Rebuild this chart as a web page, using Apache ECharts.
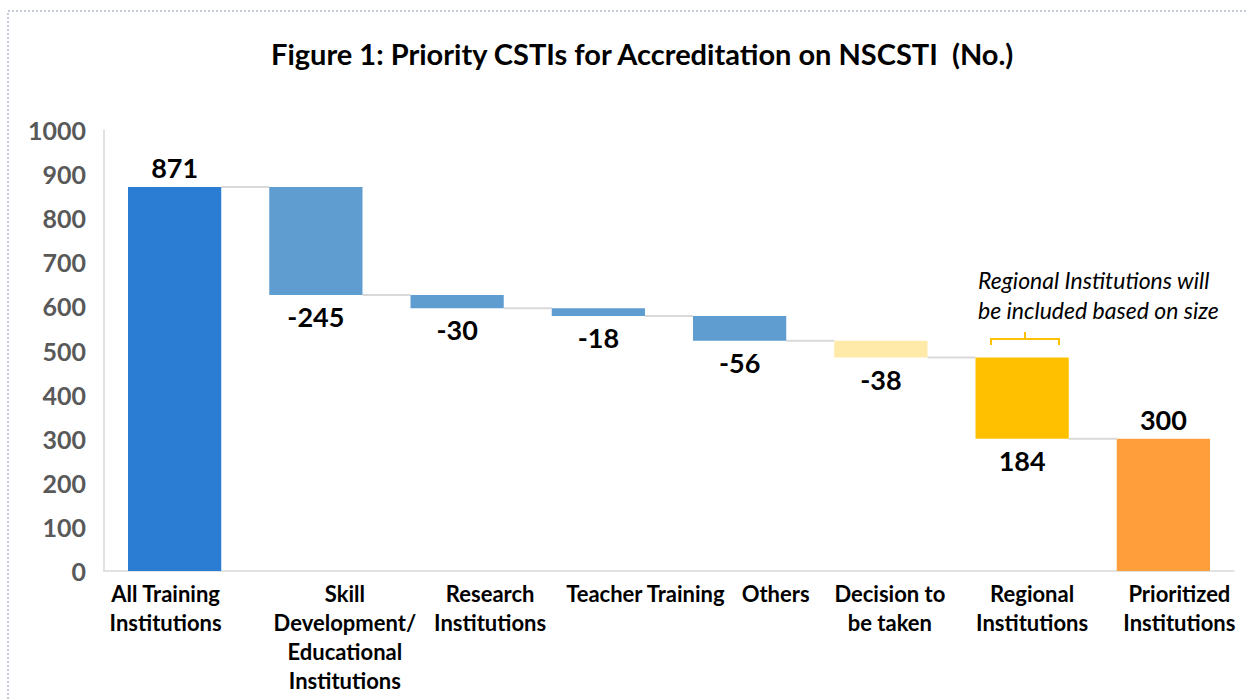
<!DOCTYPE html>
<html>
<head>
<meta charset="utf-8">
<script src="https://cdn.jsdelivr.net/npm/echarts@6/dist/echarts.min.js"></script>
<style>
  html, body { margin: 0; padding: 0; background: #fff; }
  #chart { width: 1246px; height: 700px; }
</style>
</head>
<body>
<div id="chart"></div>
<script>
var categories = [
  'All Training\nInstitutions',
  'Skill\nDevelopment/\nEducational\nInstitutions',
  'Research\nInstitutions',
  'Teacher Training',
  'Others',
  'Decision to\nbe taken',
  'Regional\nInstitutions',
  'Prioritized\nInstitutions'
];
var changes = [871, -245, -30, -18, -56, -38, -184, 300];
var isTotal = [true, false, false, false, false, false, false, true];
var labels = ['871', '-245', '-30', '-18', '-56', '-38', '184', '300'];
var colors = ['#2B7CD3', '#5F9CD0', '#5F9CD0', '#5F9CD0', '#5F9CD0', '#FFEAAA', '#FFC000', '#FF9E3B'];
var yTicks = { min: 0, max: 1000, interval: 100 };

(function() {
  var font = 'Lato, "Open Sans", sans-serif';
  // the source nudges its category labels sideways; pixel shift of each label
  var labelShift = [-9, 29, 33, 47, 36, 9, 10, 16];

  // build waterfall: invisible base + visible step
  var base = [], step = [], levels = [];
  var running = 0;
  for (var i = 0; i < changes.length; i++) {
    if (isTotal[i]) {
      base.push(0);
      step.push(changes[i]);
      running = changes[i];
    } else {
      var next = running + changes[i];
      base.push(Math.min(running, next));
      step.push(Math.abs(changes[i]));
      running = next;
    }
    levels.push(running);
  }

  var stepData = step.map(function(v, i) {
    var down = !isTotal[i];
    return {
      value: v,
      itemStyle: { color: colors[i] },
      label: { position: down ? 'bottom' : 'top', distance: down ? 8 : 6 }
    };
  });

  var catData = categories.map(function(c, i) {
    var d = labelShift[i];
    return {
      value: c,
      textStyle: { padding: d >= 0 ? [0, 0, 0, 2 * d] : [0, -2 * d, 0, 0] }
    };
  });

  // connectors from each bar's end level to the next bar
  var connectors = [];
  for (var j = 0; j < levels.length - 1; j++) connectors.push([j, levels[j]]);

  var chart = echarts.init(document.getElementById('chart'), null, { renderer: 'svg' });
  chart.setOption({
    animation: false,
    backgroundColor: '#fff',
    title: {
      text: 'Figure 1: Priority CSTIs for Accreditation on NSCSTI  (No.)',
      left: 266,
      top: 34,
      textStyle: { fontFamily: font, fontSize: 29, fontWeight: 'bold', color: '#000' }
    },
    grid: { left: 104, right: 12, top: 130, bottom: 129 },
    xAxis: {
      type: 'category',
      data: catData,
      axisLine: { lineStyle: { color: '#D9D9D9', width: 1.5 } },
      axisTick: { show: false },
      axisLabel: {
        interval: 0,
        margin: 8,
        color: '#000',
        fontFamily: font,
        fontSize: 22,
        fontWeight: 'bold',
        lineHeight: 29
      }
    },
    yAxis: {
      type: 'value',
      min: yTicks.min,
      max: yTicks.max,
      interval: yTicks.interval,
      splitLine: { show: false },
      axisTick: { show: false },
      axisLine: { show: true, lineStyle: { color: '#D9D9D9', width: 1.5 } },
      axisLabel: {
        margin: 18,
        color: '#595959',
        fontFamily: font,
        fontSize: 25,
        fontWeight: 'bold',
        formatter: function(v) { return String(v); }
      }
    },
    series: [
      {
        type: 'bar',
        stack: 'wf',
        barWidth: '66%',
        itemStyle: { color: 'transparent' },
        data: base,
        silent: true
      },
      {
        type: 'bar',
        stack: 'wf',
        barWidth: '66%',
        data: stepData,
        label: {
          show: true,
          color: '#000',
          fontFamily: font,
          fontSize: 27,
          fontWeight: 'bold',
          formatter: function(p) { return labels[p.dataIndex]; }
        }
      },
      {
        type: 'custom',
        silent: true,
        z: 1,
        data: connectors,
        renderItem: function(params, api) {
          var idx = api.value(0);
          var lvl = api.value(1);
          var half = api.size([1, 0])[0] * 0.33;
          var p0 = api.coord([idx, lvl]);
          var p1 = api.coord([idx + 1, lvl]);
          return {
            type: 'line',
            shape: { x1: p0[0] + half, y1: p0[1], x2: p1[0] - half, y2: p1[1] },
            style: { stroke: '#D9D9D9', lineWidth: 2 }
          };
        }
      }
    ],
    graphic: [
      {
        type: 'rect',
        shape: { x: 8, y: 11, width: 1300, height: 760 },
        style: { fill: 'none', stroke: '#8496B0', lineWidth: 1, lineDash: [2, 2] },
        silent: true
      },
      {
        type: 'text',
        left: 978,
        top: 265,
        style: {
          text: 'Regional Institutions will\nbe included based on size',
          fontFamily: font,
          fontSize: 23,
          fontStyle: 'italic',
          lineHeight: 30,
          fill: '#000'
        }
      },
      {
        type: 'polyline',
        shape: { points: [[991, 345], [991, 339], [1059, 339], [1059, 345]] },
        style: { stroke: '#FFC000', lineWidth: 2, fill: 'none' }
      },
      {
        type: 'line',
        shape: { x1: 1025, y1: 339, x2: 1025, y2: 332 },
        style: { stroke: '#FFC000', lineWidth: 2 }
      }
    ]
  });
  window.addEventListener('resize', function() { chart.resize(); });
})();
</script>
</body>
</html>
